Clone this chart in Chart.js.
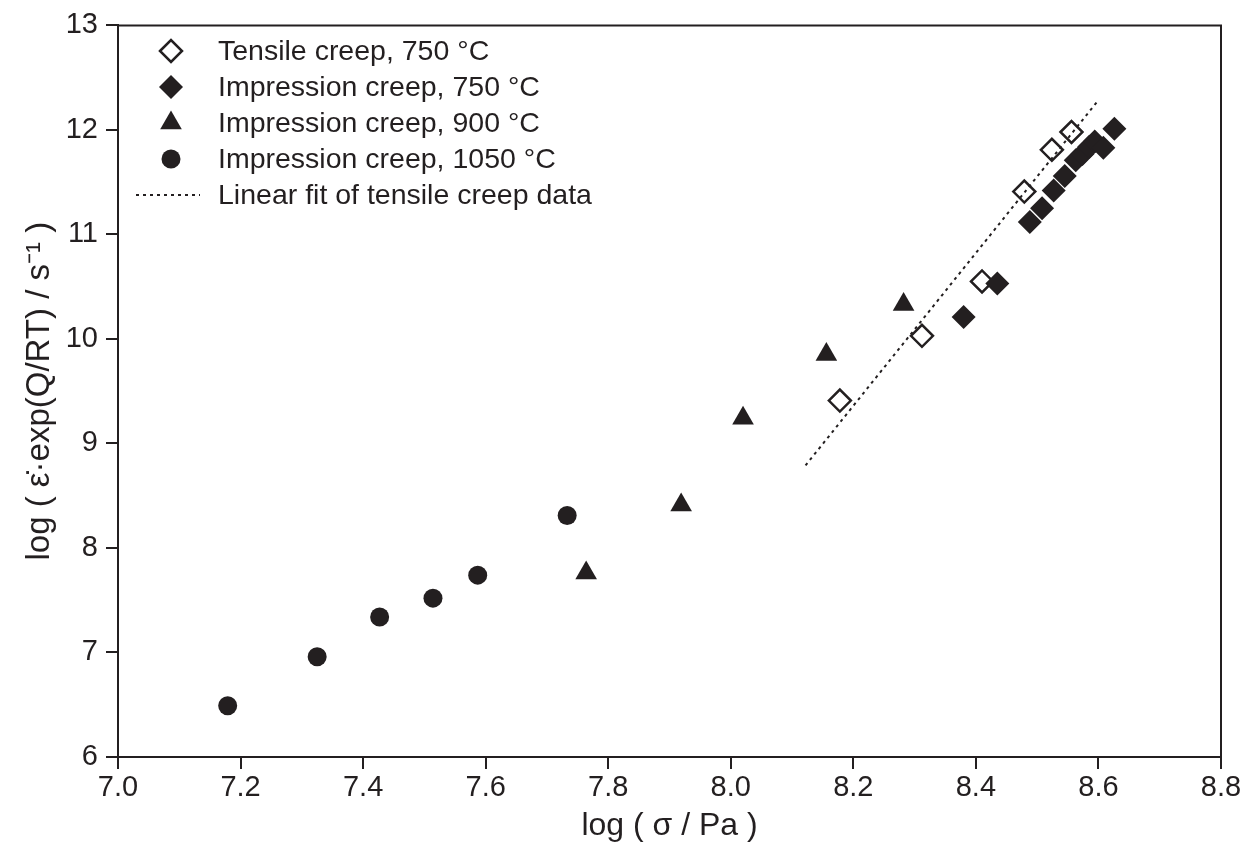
<!DOCTYPE html>
<html>
<head>
<meta charset="utf-8">
<script src="https://cdn.jsdelivr.net/npm/chart.js@4.4.1/dist/chart.umd.min.js"></script>
<style>
  html, body { margin: 0; padding: 0; background: #fff; }
</style>
</head>
<body>
<canvas id="creepChart" width="1250" height="854"></canvas>
<script>
// values
const tensile750X = [8.178, 8.312, 8.410, 8.479, 8.524, 8.556];
const tensile750Y = [9.41, 10.03, 10.55, 11.41, 11.81, 11.98];

const impression750X = [8.380, 8.435, 8.488, 8.508, 8.527, 8.545, 8.563, 8.574, 8.585, 8.594, 8.608, 8.626];
const impression750Y = [10.21, 10.53, 11.12, 11.25, 11.42, 11.56, 11.71, 11.77, 11.84, 11.89, 11.83, 12.01];

const impression900X = [7.764, 7.919, 8.020, 8.156, 8.282];
const impression900Y = [7.76, 8.41, 9.24, 9.85, 10.33];

const impression1050X = [7.179, 7.325, 7.427, 7.514, 7.587, 7.733];
const impression1050Y = [6.49, 6.96, 7.34, 7.52, 7.74, 8.31];

// end points of the dotted fit line
const fitX = [8.122, 8.598];
const fitY = [8.79, 12.27];

const xTicks = [7.0, 7.2, 7.4, 7.6, 7.8, 8.0, 8.2, 8.4, 8.6, 8.8];
const yTicks = [6, 7, 8, 9, 10, 11, 12, 13];

const ink = "#231f20";
const font = "Arial, 'Liberation Sans', Helvetica, sans-serif";

const toPoints = (xs, ys) => xs.map((x, i) => ({ x: x, y: ys[i] }));

// legend drawn by hand so it sits in one column in the top-left corner
const frameAndLegend = {
  id: "frameAndLegend",
  afterDraw(chart) {
    const { ctx, chartArea: a } = chart;
    ctx.save();
    ctx.strokeStyle = ink;
    ctx.lineWidth = 2;
    ctx.beginPath();
    ctx.moveTo(a.left, a.top);
    ctx.lineTo(a.right, a.top);
    ctx.lineTo(a.right, a.bottom);
    ctx.stroke();

    ctx.font = "28.5px " + font;
    ctx.textBaseline = "middle";
    const markX = 171, textX = 218, rowY = 51, rowGap = 36;
    chart.data.datasets.forEach((ds, i) => {
      const y = rowY + i * rowGap;
      ctx.fillStyle = ds.backgroundColor;
      ctx.strokeStyle = ink;
      if (ds.type === "line") {
        ctx.lineWidth = 2;
        ctx.setLineDash([3, 4]);
        ctx.beginPath();
        ctx.moveTo(136, y);
        ctx.lineTo(200, y);
        ctx.stroke();
        ctx.setLineDash([]);
      } else {
        ctx.lineWidth = ds.borderWidth;
        Chart.helpers.drawPoint(ctx, {
          pointStyle: ds.pointStyle,
          radius: ds.pointRadius,
          borderWidth: ds.borderWidth,
          rotation: 0
        }, markX, y);
      }
      ctx.fillStyle = ink;
      ctx.fillText(ds.label, textX, y + 1);
    });
    ctx.restore();
  }
};

new Chart(document.getElementById("creepChart").getContext("2d"), {
  type: "scatter",
  data: {
    datasets: [
      {
        label: "Tensile creep, 750 °C",
        data: toPoints(tensile750X, tensile750Y),
        pointStyle: "rectRot",
        pointRadius: 11,
        backgroundColor: "rgba(0,0,0,0)",
        borderColor: ink,
        borderWidth: 2.5,
        order: 4
      },
      {
        label: "Impression creep, 750 °C",
        data: toPoints(impression750X, impression750Y),
        pointStyle: "rectRot",
        pointRadius: 12,
        backgroundColor: ink,
        borderColor: ink,
        borderWidth: 0,
        order: 3
      },
      {
        label: "Impression creep, 900 °C",
        data: toPoints(impression900X, impression900Y),
        pointStyle: "triangle",
        pointRadius: 12.5,
        backgroundColor: ink,
        borderColor: ink,
        borderWidth: 0,
        order: 2
      },
      {
        label: "Impression creep, 1050 °C",
        data: toPoints(impression1050X, impression1050Y),
        pointStyle: "circle",
        pointRadius: 9.5,
        backgroundColor: ink,
        borderColor: ink,
        borderWidth: 0,
        order: 1
      },
      {
        type: "line",
        label: "Linear fit of tensile creep data",
        data: toPoints(fitX, fitY),
        borderColor: ink,
        backgroundColor: ink,
        borderWidth: 2,
        borderDash: [3, 4],
        pointRadius: 0,
        fill: false,
        order: 5
      }
    ]
  },
  options: {
    responsive: false,
    animation: false,
    layout: { padding: { left: 0, top: 22, right: 29, bottom: 0 } },
    scales: {
      x: {
        type: "linear",
        min: 7.0,
        max: 8.8,
        afterFit: (s) => { s.height = 97; },
        afterBuildTicks: (s) => { s.ticks = xTicks.map(v => ({ value: v })); },
        ticks: {
          color: ink,
          font: { family: font, size: 29 },
          padding: 2,
          callback: (v) => v.toFixed(1)
        },
        grid: { drawOnChartArea: false, drawTicks: true, tickLength: 12, color: ink, lineWidth: 2 },
        border: { display: true, color: ink, width: 2 },
        title: {
          display: true,
          text: "log ( σ / Pa )",
          color: ink,
          font: { family: font, size: 32 },
          padding: { top: 0, bottom: 9 }
        }
      },
      y: {
        type: "linear",
        min: 6,
        max: 13,
        afterFit: (s) => { s.width = 118; },
        afterBuildTicks: (s) => { s.ticks = yTicks.map(v => ({ value: v })); },
        ticks: {
          color: ink,
          font: { family: font, size: 29 },
          padding: 8
        },
        grid: { drawOnChartArea: false, drawTicks: true, tickLength: 12, color: ink, lineWidth: 2 },
        border: { display: true, color: ink, width: 2 },
        title: {
          display: true,
          text: "log ( ε̇·exp(Q/RT) / s⁻¹ )",
          color: ink,
          font: { family: font, size: 33 },
          padding: { top: 20, bottom: 0 }
        }
      }
    },
    plugins: {
      legend: { display: false },
      tooltip: { enabled: false }
    }
  },
  plugins: [frameAndLegend]
});
</script>
</body>
</html>
